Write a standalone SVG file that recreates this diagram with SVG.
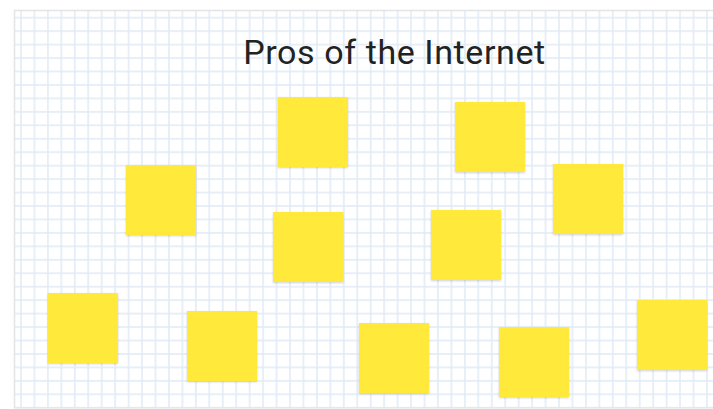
<svg xmlns="http://www.w3.org/2000/svg" width="713" height="409" viewBox="0 0 713 409">
  <defs>
    <pattern id="grid" patternUnits="userSpaceOnUse" x="14.3" y="11" width="13.45" height="13.45">
      <rect width="13.45" height="13.45" fill="#ffffff"/>
      <line x1="6.7" y1="0" x2="6.7" y2="13.45" stroke="#e1eaf6" stroke-width="1.5"/>
      <line x1="0" y1="6.7" x2="13.45" y2="6.7" stroke="#e1eaf6" stroke-width="1.5"/>
    </pattern>
    <filter id="shadow" x="-10%" y="-10%" width="120%" height="125%">
      <feDropShadow dx="0" dy="1" stdDeviation="0.8" flood-color="#000000" flood-opacity="0.18"/>
    </filter>
  </defs>
  <style>
    .note { fill: #ffea3b; filter: url(#shadow); }
    .title { font-family: Roboto, "Liberation Sans", sans-serif; font-size: 34px; letter-spacing: 0.6px; fill: #222222; }
  </style>
  <rect width="713" height="409" fill="#ffffff"/>
  <rect x="14" y="11" width="699" height="397" fill="url(#grid)"/>
  <line x1="14" y1="10.5" x2="713" y2="10.5" stroke="#e4e4e4" stroke-width="1.5"/>
  <line x1="14.5" y1="10" x2="14.5" y2="408" stroke="#e4e4e4" stroke-width="1.5"/>
  <line x1="14" y1="408" x2="713" y2="408" stroke="#e4e4e4" stroke-width="1.2"/>
  <g id="title">
    <text class="title" x="394.5" y="64" text-anchor="middle">Pros of the Internet</text>
  </g>
  <g id="note1"><rect class="note" x="278" y="97" width="70" height="70"/></g>
  <g id="note2"><rect class="note" x="455" y="102" width="70" height="70"/></g>
  <g id="note3"><rect class="note" x="126" y="165" width="70" height="70"/></g>
  <g id="note4"><rect class="note" x="553" y="164" width="70" height="70"/></g>
  <g id="note5"><rect class="note" x="273" y="212" width="70" height="70"/></g>
  <g id="note6"><rect class="note" x="431" y="210" width="70" height="70"/></g>
  <g id="note7"><rect class="note" x="48" y="293" width="70" height="70"/></g>
  <g id="note8"><rect class="note" x="187" y="311" width="70" height="70"/></g>
  <g id="note9"><rect class="note" x="359" y="323" width="70" height="70"/></g>
  <g id="note10"><rect class="note" x="499" y="327" width="70" height="70"/></g>
  <g id="note11"><rect class="note" x="637" y="300" width="70" height="70"/></g>
  <g id="connectors"></g>
</svg>
